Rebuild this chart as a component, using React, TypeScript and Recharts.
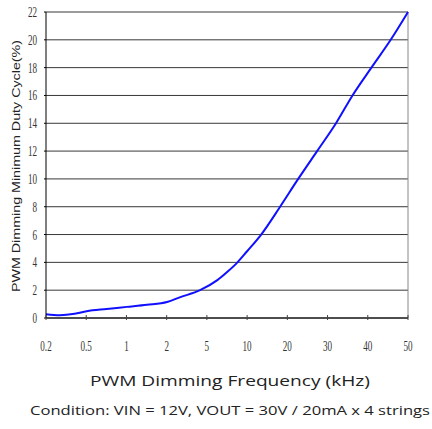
import React from "react";
import { LineChart, Line, XAxis, YAxis, CartesianGrid, ReferenceLine } from "recharts";

const freqLabels = ["0.2", "0.5", "1", "2", "5", "10", "20", "30", "40", "50"];
const freqPos = [0, 0.34, 0.71, 1.01, 1.51, 2.01, 2.51, 3.01, 3.34, 3.83, 4.26, 4.51, 4.76, 5.0, 5.35, 5.82, 6.27, 6.74, 7.21, 7.62, 8.09, 8.57, 9.0];
const dutyCycle = [0.27, 0.2, 0.3, 0.49, 0.65, 0.8, 0.95, 1.15, 1.5, 2.0, 2.72, 3.32, 4.0, 4.8, 6.0, 8.0, 10.0, 12.0, 14.0, 16.0, 18.0, 20.0, 22.0];
const yTicks = [0, 2, 4, 6, 8, 10, 12, 14, 16, 18, 20, 22];

const data = freqPos.map((x, i) => ({ x, duty: dutyCycle[i] }));
const xTicks = freqLabels.map((_, i) => i);

const tickFont = "'Liberation Serif', 'Times New Roman', serif";

const XTick = (props: any) => {
  const { x, y, payload } = props;
  return (
    <g>
      <line x1={x} x2={x} y1={y - 6} y2={y - 11} stroke="#444" strokeWidth={1} />
      <text
        transform={`translate(${x},${y + 25}) scale(0.65,1)`}
        textAnchor="middle"
        fontFamily={tickFont}
        fontSize={14}
        fill="#333"
      >
        {freqLabels[payload.value]}
      </text>
    </g>
  );
};

const YTick = (props: any) => {
  const { x, y, payload } = props;
  return (
    <g>
      <text
        transform={`translate(${x - 5},${y + 5}) scale(0.65,1)`}
        textAnchor="end"
        fontFamily={tickFont}
        fontSize={14}
        fill="#333"
      >
        {payload.value}
      </text>
    </g>
  );
};

export default function App() {
  return (
    <div style={{ position: "relative", width: 432, height: 429 }}>
      <style>{`body{margin:0}`}</style>
      <LineChart
        width={432}
        height={429}
        data={data}
        margin={{ top: 12, right: 24, bottom: 71, left: 0 }}
      >
        <CartesianGrid horizontal={true} vertical={false} stroke="#222" strokeOpacity={0.9} />
        <XAxis
          type="number"
          dataKey="x"
          domain={[0, 9]}
          ticks={xTicks}
          interval={0}
          height={40}
          axisLine={{ stroke: "#000" }}
          tickLine={false}
          tick={<XTick />}
        />
        <YAxis
          type="number"
          domain={[0, 22]}
          ticks={yTicks}
          interval={0}
          width={46}
          axisLine={{ stroke: "#000" }}
          tickLine={{ stroke: "#000" }}
          tickSize={2}
          tick={<YTick />}
        />
        <ReferenceLine x={9} stroke="#888" />
        <Line
          type="monotone"
          dataKey="duty"
          stroke="#1010ff"
          strokeWidth={2}
          dot={false}
          isAnimationActive={false}
        />
      </LineChart>
      <svg
        width={432}
        height={429}
        style={{ position: "absolute", left: 0, top: 0, pointerEvents: "none" }}
      >
        <text
          transform="translate(20,166) rotate(-90)"
          textAnchor="middle"
          fontFamily="Arial, 'Liberation Sans', sans-serif"
          fontSize={11}
          fill="#222"
          textLength={252}
          lengthAdjust="spacingAndGlyphs"
        >
          PWM Dimming Minimum Duty Cycle(%)
        </text>
        <text
          x={230}
          y={386}
          textAnchor="middle"
          fontFamily="'Open Sans', sans-serif"
          fontSize={15}
          fill="#222"
          textLength={280}
          lengthAdjust="spacingAndGlyphs"
        >
          PWM Dimming Frequency (kHz)
        </text>
        <text
          x={230}
          y={415}
          textAnchor="middle"
          fontFamily="'Open Sans', sans-serif"
          fontSize={13}
          fill="#222"
          textLength={400}
          lengthAdjust="spacingAndGlyphs"
        >
          Condition: VIN = 12V, VOUT = 30V / 20mA x 4 strings
        </text>
      </svg>
    </div>
  );
}
